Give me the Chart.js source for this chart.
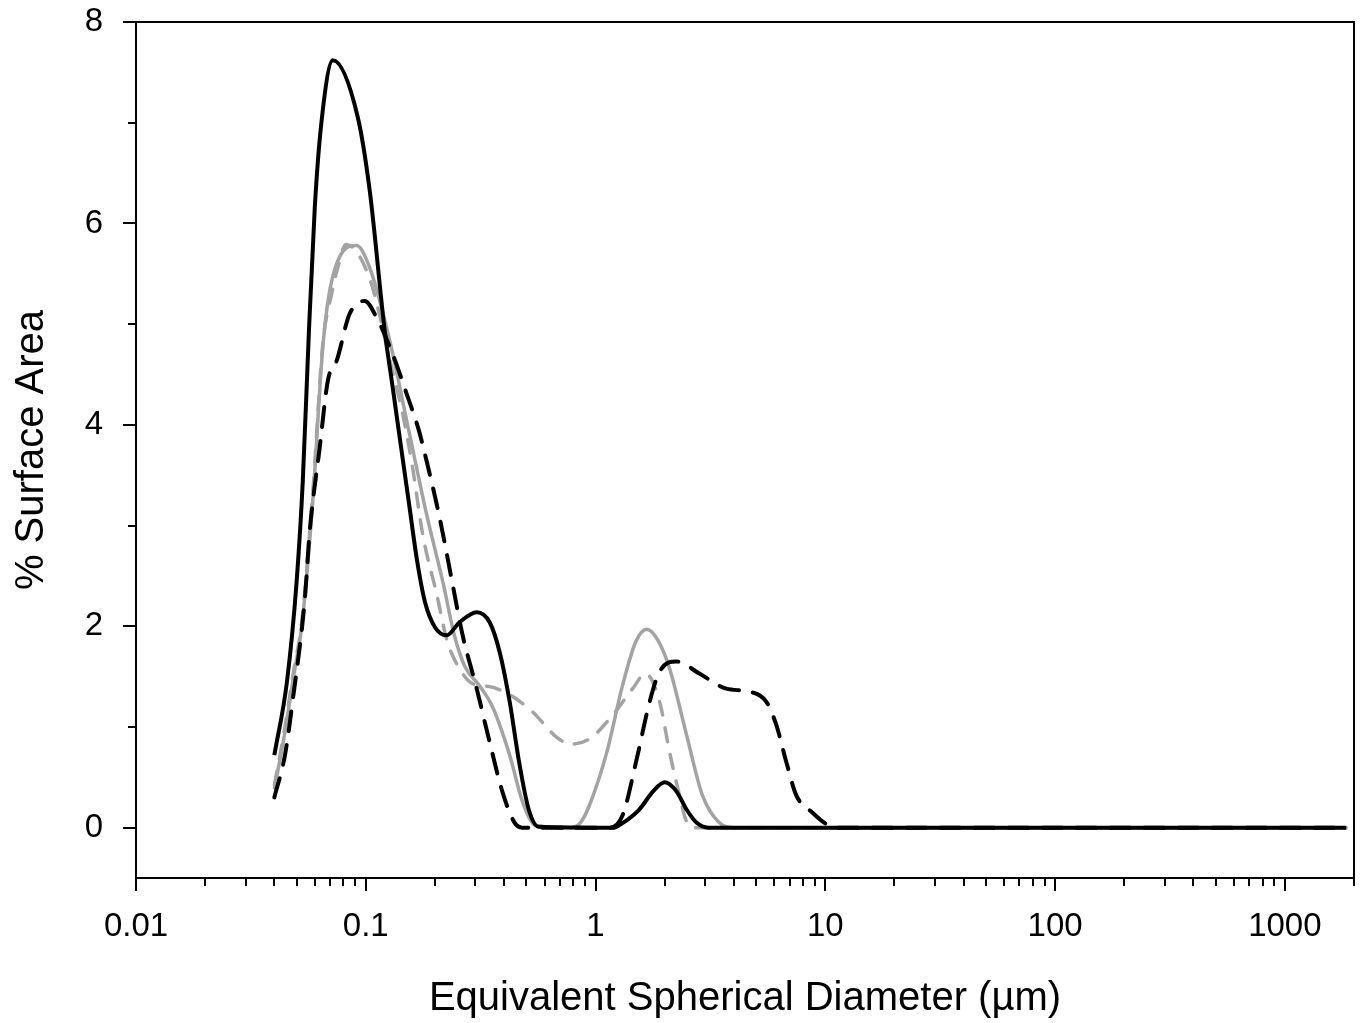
<!DOCTYPE html>
<html>
<head>
<meta charset="utf-8">
<script src="https://cdn.jsdelivr.net/npm/chart.js@4.4.0/dist/chart.umd.min.js"></script>
<style>
  html, body { margin: 0; padding: 0; background: #fff; }
  #wrap { width: 1361px; height: 1023px; }
</style>
</head>
<body>
<div id="wrap"><canvas id="psd"></canvas></div>
<script>
// sample curves (x in µm, y in % surface area)
const solidBlackX = [0.04, 0.0454, 0.050, 0.0532, 0.0565, 0.060, 0.0641, 0.0719, 0.0922, 0.104, 0.121, 0.131, 0.142, 0.154, 0.167, 0.181, 0.2, 0.225, 0.256, 0.304, 0.346, 0.383, 0.423, 0.465, 0.512, 0.565, 1.2, 1.3, 1.55, 1.78, 2.0, 2.25, 2.49, 2.75, 3.1, 1850];
const solidBlackY = [0.72, 1.45, 2.44, 3.44, 4.9, 6.16, 7.0, 7.62, 7.06, 6.33, 4.93, 4.37, 3.8, 3.23, 2.66, 2.24, 1.99, 1.91, 2.04, 2.14, 2.04, 1.74, 1.25, 0.65, 0.18, 0.01, 0, 0.04, 0.18, 0.36, 0.45, 0.36, 0.18, 0.05, 0, 0];

const dashBlackX = [0.04, 0.0445, 0.0482, 0.0543, 0.057, 0.063, 0.0684, 0.0748, 0.085, 0.099, 0.1117, 0.131, 0.151, 0.17, 0.184, 0.21, 0.239, 0.264, 0.304, 0.346, 0.394, 0.444, 0.48, 1.15, 1.31, 1.51, 1.72, 1.9, 2.25, 2.83, 3.71, 4.68, 5.54, 6.12, 6.77, 7.48, 8.78, 10.2, 11.5, 1850];
const dashBlackY = [0.3, 0.72, 1.28, 2.27, 2.94, 3.77, 4.44, 4.64, 5.1, 5.23, 5.06, 4.7, 4.3, 3.95, 3.64, 3.07, 2.41, 1.91, 1.38, 0.85, 0.35, 0.05, 0, 0, 0.12, 0.68, 1.25, 1.55, 1.65, 1.53, 1.38, 1.35, 1.25, 1.02, 0.65, 0.32, 0.15, 0.03, 0, 0];

const solidGreyX = [0.04, 0.0445, 0.0485, 0.0527, 0.0589, 0.065, 0.0711, 0.0912, 0.104, 0.127, 0.155, 0.184, 0.218, 0.243, 0.27, 0.31, 0.356, 0.423, 0.482, 0.55, 0.78, 0.86, 0.94, 1.12, 1.31, 1.5, 1.67, 1.88, 2.1, 2.49, 2.92, 3.45, 4.0, 1850];
const solidGreyY = [0.38, 0.95, 1.5, 2.01, 3.27, 4.77, 5.43, 5.78, 5.56, 4.84, 3.91, 3.11, 2.41, 1.91, 1.6, 1.42, 1.2, 0.72, 0.25, 0.02, 0, 0.05, 0.22, 0.75, 1.41, 1.85, 1.97, 1.85, 1.58, 0.92, 0.32, 0.05, 0, 0];

const dashGreyX = [0.04, 0.0445, 0.0485, 0.0527, 0.0589, 0.065, 0.071, 0.0755, 0.082, 0.104, 0.13, 0.145, 0.16, 0.177, 0.204, 0.225, 0.251, 0.292, 0.346, 0.423, 0.532, 0.676, 0.78, 0.94, 1.19, 1.45, 1.65, 1.9, 2.1, 2.32, 2.47, 2.65, 1850];
const dashGreyY = [0.42, 1.0, 1.55, 2.05, 3.35, 4.8, 5.3, 5.56, 5.79, 5.45, 4.55, 4.1, 3.57, 2.91, 2.31, 1.87, 1.61, 1.43, 1.4, 1.32, 1.15, 0.9, 0.83, 0.88, 1.12, 1.38, 1.53, 1.25, 0.75, 0.32, 0.08, 0, 0];

const xDecades = [0.01, 0.1, 1, 10, 100, 1000];
const xTickLabels = ['0.01', '0.1', '1', '10', '100', '1000'];
const xMinorSteps = [2, 3, 4, 5, 6, 7, 8, 9];
const yTicks = [0, 1, 2, 3, 4, 5, 6, 7, 8];
const yTickLabels = ['0', '', '2', '', '4', '', '6', '', '8'];

const X_MIN = 0.01, X_MAX = 2000;

function pts(xs, ys) {
  return xs.map((x, i) => ({ x: x, y: ys[i] }));
}

const xTickList = [];
xDecades.forEach(d => {
  xTickList.push({ value: d, big: true });
  xMinorSteps.forEach(s => {
    if (d * s <= X_MAX) xTickList.push({ value: d * s, big: false });
  });
});

Chart.defaults.font.family = "'Liberation Sans', Arial, sans-serif";
Chart.defaults.color = '#000';

// frame round the plot area and outward tick marks (major long, minor short)
const frameTicks = {
  id: 'frameTicks',
  afterDraw(chart) {
    const { ctx, chartArea: a } = chart;
    const xs = chart.scales.x, ys = chart.scales.y;
    ctx.save();
    ctx.strokeStyle = '#000';
    ctx.lineWidth = 2;
    ctx.strokeRect(a.left, a.top, a.right - a.left, a.bottom - a.top);
    ctx.beginPath();
    xs.ticks.forEach(t => {
      const px = Math.round(xs.getPixelForValue(t.value));
      ctx.moveTo(px, a.bottom);
      ctx.lineTo(px, a.bottom + (t.big ? 13 : 8));
    });
    ys.ticks.forEach(t => {
      const py = Math.round(ys.getPixelForValue(t.value));
      ctx.moveTo(a.left, py);
      ctx.lineTo(a.left - (t.value % 2 === 0 ? 13 : 8), py);
    });
    ctx.stroke();
    ctx.restore();
  }
};

const line = (label, xs, ys, color, width, dash) => ({
  label: label,
  data: pts(xs, ys),
  showLine: true,
  borderColor: color,
  backgroundColor: color,
  borderWidth: width,
  borderDash: dash,
  borderCapStyle: dash.length ? 'round' : 'butt',
  pointRadius: 0,
  cubicInterpolationMode: 'monotone',
  fill: false
});

new Chart(document.getElementById('psd'), {
  type: 'scatter',
  data: {
    datasets: [
      line('Sample 1', solidBlackX, solidBlackY, '#000', 4, []),
      line('Sample 2', dashBlackX, dashBlackY, '#000', 4, [20, 14]),
      line('Sample 3', solidGreyX, solidGreyY, '#a3a3a3', 3.5, []),
      line('Sample 4', dashGreyX, dashGreyY, '#a3a3a3', 3.5, [14, 13])
    ]
  },
  options: {
    responsive: true,
    maintainAspectRatio: false,
    animation: false,
    layout: { padding: { top: 22, right: 7, left: 0, bottom: 0 } },
    plugins: {
      legend: { display: false },
      tooltip: { enabled: false }
    },
    scales: {
      x: {
        type: 'logarithmic',
        min: X_MIN,
        max: X_MAX,
        afterBuildTicks: s => { s.ticks = xTickList.map(t => ({ value: t.value, big: t.big })); },
        afterFit: s => { s.height = 145; },
        // tick marks are drawn by the plugin; tickLength only spaces the labels
        grid: { display: false, drawTicks: true, tickLength: 29 },
        border: { display: false },
        ticks: {
          autoSkip: false,
          maxRotation: 0,
          padding: 0,
          font: { size: 33 },
          callback: v => {
            const k = xDecades.indexOf(v);
            return k >= 0 ? xTickLabels[k] : '';
          }
        },
        title: {
          display: true,
          text: 'Equivalent Spherical Diameter (µm)',
          font: { size: 40 },
          padding: { top: 4, bottom: 0 }
        }
      },
      y: {
        type: 'linear',
        min: -0.5,
        max: 8,
        afterBuildTicks: s => { s.ticks = yTicks.map(v => ({ value: v })); },
        afterFit: s => { s.width = 136; },
        grid: { display: false, drawTicks: true, tickLength: 33 },
        border: { display: false },
        ticks: {
          autoSkip: false,
          padding: 0,
          font: { size: 33 },
          callback: v => {
            const k = yTicks.indexOf(v);
            return k >= 0 ? yTickLabels[k] : '';
          }
        },
        title: {
          display: true,
          text: '% Surface Area',
          font: { size: 40 },
          padding: { top: 8, bottom: 0 }
        }
      }
    }
  },
  plugins: [frameTicks]
});
</script>
</body>
</html>
